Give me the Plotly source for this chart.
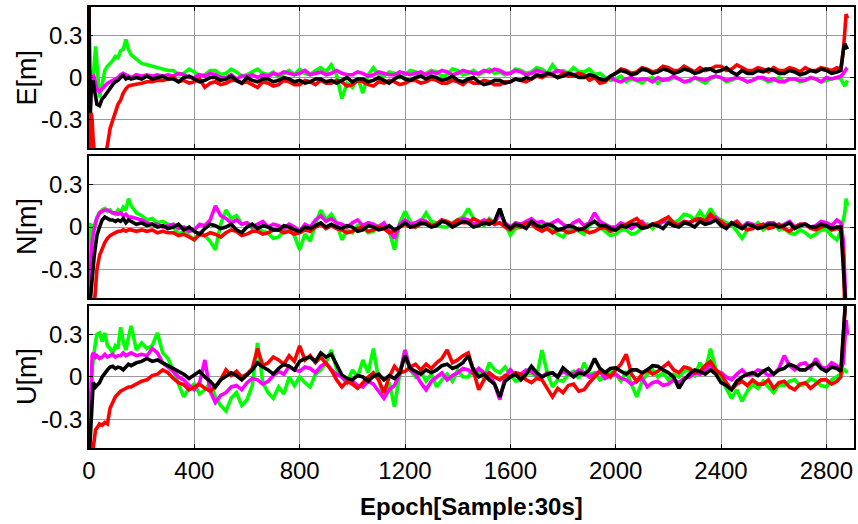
import plotly.graph_objects as go

# ---------------- data ----------------
epoch_start = [0, 4, 8, 12, 16, 20, 25, 30,
               40, 50, 60, 70, 80, 90, 100, 110,
               120, 130, 140, 150, 160, 180, 200, 220,
               240, 260, 280, 300]
epoch_mid = list(range(320, 2841, 20))
epoch_end = [2855, 2865, 2870, 2875, 2880]
epochs = epoch_start + epoch_mid + epoch_end

# ---- E component ----
E_green = ([0.5, -0.5, 0.05, -0.1, 0.0, 0.1, 0.22, 0.1,
            -0.14, -0.05, 0.05, 0.08, 0.1, 0.12, 0.15, 0.14,
            0.19, 0.2, 0.27, 0.2, 0.16, 0.13, 0.1, 0.09,
            0.08, 0.07, 0.06, 0.05]
           + [0.05, 0.02, 0.03, 0.06, 0.04, 0.01, 0.02, 0.05, 0.05, 0.02, 0.03, 0.06, 0.04, 0.01, 0.02, 0.04,
              0.06, 0.03, 0.02, 0.04, 0.0, 0.03, 0.05, 0.02, 0.06, 0.03, 0.02, 0.05, 0.07, 0.04, 0.09, 0.02,
              -0.15, -0.04, -0.07, 0.0, -0.11, 0.02, 0.07, 0.02, 0.01, 0.04, 0.03, 0.0, 0.02, 0.05, 0.04, 0.01,
              0.03, 0.05, 0.04, 0.01, 0.02, 0.06, 0.05, 0.02, 0.03, 0.05, 0.02, 0.04, 0.06, 0.03, 0.04, 0.02,
              0.03, 0.06, 0.05, 0.03, 0.04, 0.07, 0.06, 0.03, 0.09, 0.04, 0.05, 0.03, 0.07, 0.04, 0.04, 0.06,
              0.02, 0.03, 0.0, -0.02, -0.01, 0.01, -0.03, -0.01, -0.02, -0.04, -0.01, 0.0, -0.04, -0.01, -0.02, 0.0,
              -0.01, -0.03, -0.03, 0.0, -0.02, -0.04, -0.01, 0.01, 0.0, -0.03, -0.02, 0.0, -0.01, -0.03, -0.02, 0.0,
              -0.01, -0.03, -0.02, 0.0, -0.03, -0.01, -0.01, -0.03, -0.02, 0.0, -0.01, -0.03, -0.02, -0.01, 0.0]
           + [-0.01, -0.05, -0.06, -0.04, -0.02])
E_magenta = ([0.2, -0.3, -0.1, 0.0, 0.02, 0.0, -0.05, -0.08,
              -0.1, -0.08, -0.06, -0.04, -0.03, -0.02, -0.01, 0.0,
              0.02, 0.03, 0.02, 0.01, 0.0, 0.02, 0.01, 0.02,
              0.01, 0.02, 0.01, 0.02]
             + [0.01, 0.03, 0.02, 0.0, 0.0, 0.02, 0.01, 0.03, 0.02, 0.0, 0.0, 0.02, -0.01, 0.01, 0.01, 0.02,
                0.0, 0.02, 0.01, 0.03, 0.02, 0.04, 0.03, 0.02, 0.03, 0.05, 0.02, 0.03, 0.04, 0.02, 0.03, 0.05,
                0.03, 0.02, 0.02, 0.04, 0.03, 0.01, 0.02, 0.04, 0.03, 0.02, 0.02, 0.04, 0.03, 0.02, 0.03, 0.04,
                0.02, 0.04, 0.03, 0.05, 0.04, 0.02, 0.03, 0.05, 0.04, 0.03, 0.03, 0.05, 0.04, 0.06, 0.05, 0.03,
                0.03, 0.05, 0.04, 0.02, 0.03, 0.05, 0.04, 0.03, 0.03, 0.05, 0.04, 0.03, 0.02, 0.03, 0.01, 0.0,
                0.0, -0.02, -0.01, 0.0, -0.02, -0.03, -0.01, 0.0, -0.02, -0.01, -0.01, -0.03, 0.0, -0.02, -0.01, 0.01,
                -0.01, -0.03, -0.02, 0.0, -0.01, -0.02, 0.0, 0.01, 0.0, -0.02, -0.01, 0.0, -0.01, -0.03, -0.02, 0.0,
                0.0, -0.02, -0.01, -0.03, -0.03, -0.01, -0.01, -0.02, -0.02, 0.0, -0.01, -0.03, 0.0, -0.01, 0.0]
             + [0.01, 0.03, 0.05, 0.06, 0.05])
E_red = ([0.5, -0.5, -0.25, -0.3, -0.45, -0.6, -0.6, -0.6,
          -0.6, -0.6, -0.55, -0.48, -0.36, -0.3, -0.23, -0.19,
          -0.16, -0.11, -0.08, -0.06, -0.055, -0.05, -0.04, -0.03,
          -0.03, -0.02, -0.02, -0.01]
         + [0.0, -0.03, -0.02, -0.04, -0.03, -0.01, -0.07, -0.04, -0.03, -0.05, -0.04, -0.02, -0.02, -0.04, -0.03, -0.05,
            -0.07, -0.03, -0.04, -0.06, -0.05, -0.02, -0.03, -0.05, -0.05, -0.02, -0.03, -0.05, -0.02, -0.04, -0.04, -0.02,
            -0.03, -0.06, -0.05, -0.02, -0.03, -0.05, -0.06, -0.03, -0.04, -0.02, -0.03, -0.05, -0.04, -0.02, -0.02, -0.04,
            -0.03, -0.01, -0.02, -0.04, -0.04, -0.02, -0.03, -0.05, -0.02, -0.04, -0.04, -0.02, -0.03, -0.05, -0.05, -0.03,
            -0.03, -0.01, -0.02, -0.03, -0.01, 0.01, 0.0, 0.02, 0.02, 0.0, 0.03, 0.01, 0.01, 0.03, 0.02, -0.02,
            0.0, -0.04, -0.03, 0.01, 0.03, 0.06, 0.05, 0.03, 0.04, 0.07, 0.06, 0.04, 0.05, 0.08, 0.07, 0.05,
            0.05, 0.08, 0.06, 0.04, 0.07, 0.05, 0.06, 0.08, 0.08, 0.05, 0.06, 0.09, 0.07, 0.05, 0.05, 0.07,
            0.06, 0.04, 0.07, 0.05, 0.05, 0.07, 0.06, 0.04, 0.07, 0.05, 0.05, 0.07, 0.06, 0.05, 0.07]
         + [0.06, 0.2, 0.33, 0.45, 0.42])
E_black = ([0.5, -0.25, -0.1, -0.05, -0.02, -0.08, -0.15, -0.19,
            -0.2, -0.15, -0.13, -0.1, -0.07, -0.05, -0.03, -0.02,
            0.0, 0.015, -0.01, 0.0, -0.01, 0.0, -0.01, 0.01,
            -0.01, 0.0, 0.01, -0.01]
           + [-0.01, -0.03, 0.0, 0.01, -0.01, -0.03, -0.02, 0.0, 0.0, -0.02, -0.01, 0.01, -0.02, -0.04, 0.0, -0.02,
              -0.03, -0.01, -0.01, -0.03, -0.02, 0.0, -0.01, -0.03, -0.02, -0.04, -0.03, -0.01, -0.01, -0.03, -0.02, -0.04,
              -0.02, 0.0, -0.03, -0.01, -0.01, -0.03, -0.02, 0.0, -0.02, -0.04, -0.01, 0.01, -0.01, -0.02, 0.0, 0.01,
              -0.01, 0.01, 0.0, -0.02, -0.01, 0.01, -0.02, -0.03, -0.01, 0.0, -0.03, -0.05, -0.04, -0.02, -0.02, -0.04,
              -0.03, -0.01, -0.02, 0.0, -0.01, 0.02, 0.01, 0.03, 0.02, 0.0, 0.01, 0.03, 0.02, 0.0, 0.0, 0.02,
              0.01, -0.01, -0.02, 0.01, 0.03, 0.05, 0.04, 0.02, 0.03, 0.06, 0.05, 0.03, 0.04, 0.06, 0.05, 0.03,
              0.04, 0.06, 0.05, 0.03, 0.04, 0.06, 0.06, 0.04, 0.05, 0.07, 0.04, 0.02, 0.05, 0.03, 0.03, 0.05,
              0.04, 0.06, 0.05, 0.03, 0.03, 0.05, 0.04, 0.02, 0.03, 0.05, 0.04, 0.06, 0.05, 0.03, 0.04]
           + [0.05, 0.2, 0.24, 0.22, 0.2])

# ---- N component ----
N_green = ([-0.3, 0.03, -0.05, 0.0, 0.02, 0.0, 0.05, 0.07,
            0.1, 0.12, 0.13, 0.11, 0.12, 0.1, 0.09, 0.12,
            0.1, 0.14, 0.12, 0.2, 0.15, 0.1, 0.08, 0.05,
            0.06, 0.03, 0.04, 0.02]
           + [0.0, -0.05, -0.03, -0.06, -0.09, -0.04, -0.06, -0.1, -0.16, 0.02, 0.12, 0.06, 0.08, 0.02, 0.03, -0.01,
              0.0, -0.03, -0.04, -0.08, -0.07, -0.03, -0.02, -0.06, -0.16, -0.05, -0.1, 0.02, 0.12, 0.05, 0.09, 0.03,
              -0.09, -0.02, -0.04, 0.01, 0.0, -0.04, -0.03, 0.01, 0.02, -0.03, -0.16, 0.03, 0.11, 0.04, 0.0, 0.04,
              0.1, 0.04, 0.03, 0.0, 0.0, 0.03, 0.05, 0.07, 0.13, 0.06, 0.04, 0.01, 0.06, 0.03, 0.13, 0.02,
              -0.055, -0.01, 0.0, 0.03, 0.05, 0.01, 0.03, -0.01, -0.02, -0.05, -0.07, -0.02, 0.0, -0.03, -0.05, 0.01,
              0.04, 0.0, -0.03, -0.06, -0.05, -0.02, -0.02, -0.05, -0.04, 0.0, 0.02, -0.01, 0.03, 0.05, 0.06, 0.03,
              0.05, 0.09, 0.08, 0.05, 0.11, 0.06, 0.13, 0.07, 0.05, 0.03, 0.02, -0.03, -0.08, -0.02, 0.0, 0.03,
              -0.02, 0.01, 0.03, -0.02, -0.01, -0.04, -0.05, -0.02, -0.04, -0.07, -0.05, -0.02, -0.02, -0.06, -0.09]
           + [-0.03, 0.05, 0.1, 0.2, 0.15])
N_magenta = ([-0.5, -0.35, -0.2, -0.1, -0.05, 0.0, 0.03, 0.06,
              0.1, 0.11, 0.12, 0.12, 0.11, 0.1, 0.1, 0.09,
              0.1, 0.08, 0.09, 0.07, 0.07, 0.06, 0.05, 0.03,
              0.02, 0.02, 0.0, 0.01]
             + [0.02, -0.01, 0.0, -0.03, -0.02, 0.02, 0.01, 0.05, 0.15, 0.08, 0.06, 0.03, 0.05, 0.02, 0.03, 0.0,
                0.02, 0.04, 0.0, 0.02, 0.01, -0.01, 0.02, 0.0, -0.03, 0.02, 0.0, 0.05, 0.08, 0.04, 0.06, 0.03,
                0.02, 0.0, 0.03, 0.05, 0.01, 0.03, 0.02, 0.0, 0.03, -0.02, -0.08, 0.02, 0.05, 0.02, 0.03, 0.05,
                0.04, 0.01, 0.02, 0.05, 0.03, 0.01, 0.04, 0.06, 0.05, 0.02, 0.03, 0.05, 0.04, 0.02, 0.1, 0.03,
                0.0, 0.03, 0.02, 0.04, 0.06, 0.03, 0.04, 0.01, 0.03, 0.05, 0.02, 0.0, 0.03, 0.05, 0.01, 0.03,
                0.1, 0.04, 0.02, 0.0, 0.0, 0.03, 0.01, -0.01, 0.02, 0.04, 0.0, 0.02, 0.01, 0.04, 0.03, 0.01,
                0.02, 0.04, 0.03, 0.05, 0.04, 0.02, 0.05, 0.07, 0.03, 0.01, 0.02, 0.04, 0.0, 0.03, 0.02, 0.0,
                0.01, 0.03, 0.03, 0.0, 0.02, 0.04, 0.0, 0.02, 0.02, 0.0, 0.01, 0.04, 0.03, 0.01, 0.05]
             + [0.03, -0.1, -0.6, -0.6, -0.6])
N_red = ([-0.6, -0.6, -0.6, -0.6, -0.6, -0.55, -0.45, -0.3,
          -0.2, -0.15, -0.11, -0.08, -0.06, -0.05, -0.04, -0.03,
          -0.03, -0.02, -0.03, -0.02, -0.02, -0.03, -0.02, -0.03,
          -0.02, -0.04, -0.03, -0.04]
         + [-0.04, -0.06, -0.05, -0.07, -0.09, -0.05, -0.06, -0.04, -0.05, -0.07, -0.04, -0.02, -0.03, -0.06, -0.05, -0.03,
            -0.03, -0.05, -0.04, -0.02, -0.02, -0.04, -0.03, -0.05, -0.04, -0.02, -0.03, 0.0, 0.02, -0.01, 0.01, -0.01,
            -0.02, -0.04, -0.03, -0.01, 0.0, -0.03, -0.02, 0.0, -0.01, -0.04, -0.03, 0.0, 0.02, 0.0, 0.0, 0.02,
            0.03, 0.01, 0.02, 0.05, 0.04, 0.02, 0.05, 0.03, 0.03, 0.06, 0.04, 0.02, 0.05, 0.02, 0.03, 0.0,
            -0.02, 0.01, 0.0, 0.03, 0.02, -0.01, -0.03, -0.01, -0.04, -0.02, -0.02, -0.04, -0.03, -0.01, -0.02, -0.04,
            -0.03, -0.01, 0.0, -0.03, -0.02, 0.0, 0.02, 0.04, 0.06, 0.02, 0.0, 0.02, 0.03, 0.05, 0.07, 0.03,
            0.01, 0.04, 0.03, 0.05, 0.06, 0.04, 0.09, 0.05, 0.04, 0.01, 0.02, 0.04, 0.0, -0.02, -0.01, 0.01,
            0.02, -0.01, 0.0, 0.02, -0.01, -0.03, 0.0, 0.02, 0.02, -0.01, -0.02, 0.0, 0.01, -0.02, -0.01]
         + [-0.02, -0.2, -0.6, -0.6, -0.6])
N_black = ([-0.6, -0.55, -0.45, -0.35, -0.25, -0.2, -0.13, -0.06,
            0.0, 0.05, 0.07, 0.06, 0.05, 0.05, 0.04, 0.05,
            0.04, 0.06, 0.03, 0.05, 0.04, 0.02, 0.03, 0.01,
            0.02, 0.0, 0.01, -0.01]
           + [0.0, 0.02, -0.02, 0.0, -0.03, -0.05, -0.01, 0.02, 0.01, -0.01, 0.0, 0.02, -0.02, -0.04, 0.0, 0.02,
              -0.01, 0.01, 0.0, -0.02, -0.02, 0.01, 0.0, -0.02, -0.03, 0.0, -0.01, 0.01, 0.03, 0.0, 0.02, 0.0,
              -0.01, 0.01, 0.0, -0.03, -0.02, 0.01, 0.0, -0.02, -0.01, 0.01, -0.02, 0.0, 0.03, 0.0, 0.01, 0.03,
              0.02, 0.0, 0.01, 0.04, 0.03, 0.0, 0.02, 0.04, 0.03, 0.0, 0.01, 0.03, 0.02, 0.04, 0.13, 0.02,
              -0.01, 0.02, 0.01, -0.01, 0.04, 0.01, 0.0, 0.02, 0.01, -0.02, -0.01, 0.01, 0.0, -0.02, -0.01, 0.02,
              0.04, 0.01, 0.01, -0.01, -0.02, 0.01, 0.0, 0.02, 0.02, -0.01, 0.0, 0.02, 0.01, -0.01, 0.03, 0.01,
              0.0, 0.03, 0.02, 0.0, 0.04, 0.02, 0.03, 0.05, 0.01, -0.01, 0.03, 0.01, -0.01, 0.02, 0.01, -0.01,
              0.0, 0.02, 0.02, 0.0, 0.01, 0.03, -0.01, 0.01, 0.02, 0.0, 0.0, 0.02, 0.01, -0.01, 0.0]
           + [0.0, -0.3, -0.6, -0.6, -0.6])

# ---- U component ----
U_green = ([-0.5, -0.3, -0.1, 0.05, 0.12, 0.19, 0.25, 0.3,
            0.31, 0.25, 0.31, 0.22, 0.2, 0.17, 0.22, 0.2,
            0.35, 0.25, 0.19, 0.28, 0.36, 0.19, 0.24, 0.2,
            0.22, 0.31, 0.17, 0.13]
           + [0.05, -0.05, -0.14, -0.08, -0.05, -0.12, -0.09, -0.04, -0.14, -0.2, -0.24, -0.15, -0.11, -0.2, -0.16, -0.06,
              0.24, -0.04, -0.11, -0.15, -0.07, -0.12, 0.0, -0.06, 0.0, -0.04, -0.07, 0.02, 0.05, 0.1, 0.19, 0.06,
              0.0, -0.04, 0.05, 0.0, 0.12, 0.03, 0.2, -0.02, -0.14, -0.04, -0.21, 0.02, 0.19, 0.05, 0.0, 0.04,
              -0.03, 0.02, -0.07, -0.02, 0.02, -0.03, 0.05, 0.0, 0.0, 0.06, 0.04, -0.01, 0.1, 0.05, 0.03, 0.07,
              0.02, -0.03, -0.02, 0.02, 0.03, 0.0, 0.19, 0.03, -0.07, -0.02, -0.03, 0.02, 0.04, -0.01, 0.1, 0.02,
              0.03, -0.02, 0.0, 0.04, 0.02, -0.03, 0.04, -0.05, -0.14, -0.03, 0.02, 0.05, 0.0, 0.03, -0.02, 0.02,
              0.0, 0.04, 0.05, 0.01, 0.1, 0.04, 0.2, 0.06, 0.0, -0.08, -0.15, -0.09, -0.17, -0.1, -0.05, -0.08,
              -0.03, -0.07, -0.11, -0.05, -0.06, -0.03, -0.02, -0.06, -0.05, -0.01, -0.03, -0.06, -0.07, -0.02, 0.0]
           + [0.02, 0.04, 0.05, 0.04, 0.03])
U_magenta = ([-0.5, -0.2, 0.05, 0.15, 0.17, 0.16, 0.14, 0.15,
              0.13, 0.14, 0.16, 0.14, 0.15, 0.16, 0.14, 0.15,
              0.15, 0.17, 0.15, 0.16, 0.17, 0.15, 0.16, 0.15,
              0.2, 0.17, 0.1, 0.07]
             + [0.04, 0.0, -0.02, -0.06, -0.09, -0.04, 0.12, -0.1, -0.18, -0.13, -0.11, -0.07, -0.06, -0.09, -0.04, -0.01,
                -0.02, -0.05, -0.03, 0.01, 0.04, 0.02, 0.075, 0.05, 0.04, 0.07, 0.06, 0.03, 0.075, 0.1, 0.05, 0.02,
                0.0, -0.04, -0.03, -0.06, -0.07, -0.03, -0.05, -0.1, -0.15, -0.09, -0.06, 0.02, 0.19, 0.05, 0.02, -0.04,
                -0.09, -0.03, 0.0, 0.03, -0.02, 0.01, 0.03, 0.06, 0.05, 0.02, 0.06, 0.03, 0.02, -0.05, -0.16, 0.0,
                0.05, 0.01, 0.02, 0.05, 0.04, 0.01, 0.0, 0.03, 0.03, 0.0, 0.04, 0.02, 0.02, 0.05, 0.03, 0.0,
                0.02, 0.04, -0.01, 0.01, 0.02, -0.01, -0.02, -0.05, -0.03, -0.01, -0.07, -0.04, -0.03, -0.06, -0.05, -0.02,
                -0.04, -0.01, 0.0, 0.03, 0.02, 0.05, 0.09, 0.04, 0.03, 0.0, -0.02, 0.02, 0.05, 0.01, 0.02, 0.05,
                0.04, 0.01, 0.02, 0.06, 0.15, 0.08, 0.05, 0.09, 0.1, 0.06, 0.13, 0.07, 0.06, 0.1, 0.08]
             + [0.05, 0.1, 0.25, 0.4, 0.3])
U_red = ([-0.6, -0.6, -0.6, -0.6, -0.5, -0.42, -0.37, -0.36,
          -0.33, -0.34, -0.32, -0.33, -0.22, -0.18, -0.14, -0.12,
          -0.1, -0.09, -0.08, -0.07, -0.07, -0.05, -0.03, -0.02,
          0.01, 0.02, 0.05, 0.03]
         + [-0.01, -0.04, -0.055, -0.09, -0.07, -0.05, -0.08, -0.1, -0.07, -0.02, 0.05, 0.01, 0.04, 0.0, 0.02, 0.06,
            0.2, 0.08, 0.1, 0.14, 0.12, 0.09, 0.15, 0.11, 0.22, 0.12, 0.15, 0.1, 0.14, 0.09, 0.05, -0.02,
            -0.07, -0.03, -0.05, -0.08, -0.04, 0.0, 0.03, -0.02, -0.11, 0.0, 0.075, 0.03, 0.04, 0.07, 0.09, 0.05,
            0.09, 0.06, 0.1, 0.13, 0.19, 0.1, 0.12, 0.15, 0.17, 0.05, -0.09, -0.02, 0.03, 0.0, -0.02, 0.01,
            0.0, 0.03, 0.02, -0.02, -0.04, -0.01, -0.02, -0.08, -0.14, -0.08, -0.11, -0.06, -0.05, -0.1, -0.09, -0.04,
            0.0, 0.04, 0.03, 0.0, 0.05, 0.09, 0.16, 0.02, -0.03, 0.02, 0.05, 0.02, 0.04, 0.07, 0.1, 0.05,
            0.03, 0.07, 0.06, 0.03, 0.04, 0.08, 0.11, 0.05, 0.02, -0.04, -0.09, -0.05, -0.03, -0.06, -0.02, -0.05,
            -0.05, -0.02, -0.08, -0.04, -0.03, -0.07, -0.09, -0.05, -0.04, -0.08, -0.05, -0.02, -0.02, -0.05, -0.03]
         + [0.0, 0.3, 0.6, 0.6, 0.6])
U_black = ([-0.6, -0.45, -0.3, -0.12, -0.04, -0.05, -0.07, -0.06,
            -0.04, 0.0, 0.03, 0.05, 0.07, 0.075, 0.06, 0.07,
            0.065, 0.05, 0.07, 0.09, 0.08, 0.1, 0.11, 0.13,
            0.11, 0.12, 0.1, 0.08]
           + [0.065, 0.04, 0.02, -0.01, 0.015, 0.04, 0.0, -0.03, -0.07, -0.02, 0.005, 0.03, 0.01, -0.02, 0.015, 0.05,
              0.1, 0.07, 0.05, 0.02, 0.06, 0.09, 0.075, 0.05, 0.11, 0.13, 0.14, 0.11, 0.17, 0.14, 0.16, 0.08,
              0.015, -0.01, -0.02, 0.01, 0.0, -0.03, 0.005, 0.02, -0.02, 0.01, -0.01, 0.03, 0.15, 0.06, 0.04, 0.02,
              0.05, 0.03, 0.05, 0.08, 0.09, 0.06, 0.075, 0.1, 0.15, 0.05, 0.0, 0.02, -0.02, -0.05, -0.14, -0.03,
              0.0, 0.02, -0.02, 0.02, 0.075, 0.03, 0.0, 0.02, 0.03, 0.0, 0.065, 0.03, 0.0, 0.03, 0.02, 0.05,
              0.13, 0.06, 0.03, 0.06, 0.065, 0.04, 0.02, 0.05, 0.05, 0.03, 0.05, 0.08, 0.075, 0.05, 0.03, 0.0,
              -0.08, -0.02, 0.02, 0.05, 0.04, 0.02, 0.05, 0.02, -0.04, -0.06, -0.09, -0.03, 0.0, 0.02, 0.03, 0.01,
              0.04, 0.06, 0.02, 0.05, 0.06, 0.09, 0.075, 0.05, 0.05, 0.08, 0.1, 0.06, 0.04, 0.07, 0.06]
           + [0.04, 0.3, 0.6, 0.6, 0.6])

panel_titles = ["E[m]", "N[m]", "U[m]"]
series_names = ["green", "magenta", "red", "black"]
series_colors = ["#00FF00", "#FF00FF", "#FF0000", "#000000"]
panels = [
    [E_green, E_magenta, E_red, E_black],
    [N_green, N_magenta, N_red, N_black],
    [U_green, U_magenta, U_red, U_black],
]
for p in panels:
    for s in p:
        assert len(s) == len(epochs), (len(s), len(epochs))

x_ticks = [0, 400, 800, 1200, 1600, 2000, 2400, 2800]
y_ticks = [-0.3, 0, 0.3]
y_ticktext = ["-0.3", "0", "0.3"]
x_title = "Epoch[Sample:30s]"

# ---------------- figure ----------------
fig = go.Figure()
domains = [[0.680, 1.0], [0.340, 0.662], [0.0, 0.322]]
FONT = "Liberation Sans, Arial, sans-serif"
annotations = []

for i, series in enumerate(panels):
    ax = "" if i == 0 else str(i + 1)
    for vals, name, col in zip(series, series_names, series_colors):
        fig.add_trace(go.Scatter(
            x=epochs, y=vals, mode="lines", name=name,
            line=dict(color=col, width=3.6),
            xaxis="x" + ax, yaxis="y" + ax, showlegend=False,
            hoverinfo="skip"))

    common_x = dict(
        range=[0, 2905], tickvals=x_ticks, ticks="inside", ticklen=4,
        tickcolor="black", showline=True, linecolor="black", linewidth=1.5,
        mirror="ticks", showgrid=True, gridcolor="#999999", gridwidth=1.2,
        zeroline=False, automargin=False,
        tickfont=dict(family=FONT, size=24, color="black"),
        showticklabels=(i == 2), anchor="y" + ax,
    )
    if i != 2:
        common_x["matches"] = "x3"
    common_y = dict(
        domain=domains[i], range=[-0.5, 0.5], tickvals=y_ticks,
        ticktext=y_ticktext, ticks="inside", ticklen=4, tickcolor="black",
        showline=True, linecolor="black", linewidth=1.5, mirror="ticks",
        showgrid=True, gridcolor="#999999", gridwidth=1,
        zeroline=False, anchor="x" + ax, automargin=False,
        tickfont=dict(family=FONT, size=24, color="black"),
    )
    fig.update_layout(**{"xaxis" + ax: common_x, "yaxis" + ax: common_y})
    annotations.append(dict(
        text=panel_titles[i], textangle=-90, showarrow=False,
        xref="paper", yref="paper", x=0, xshift=-62,
        y=(domains[i][0] + domains[i][1]) / 2,
        xanchor="center", yanchor="middle",
        font=dict(family=FONT, size=27, color="black")))

annotations.append(dict(
    text="<b>" + x_title + "</b>", showarrow=False,
    xref="paper", yref="paper", x=0.5, y=0, yshift=-58,
    xanchor="center", yanchor="middle",
    font=dict(family=FONT, size=24, color="black")))

fig.update_layout(
    width=858, height=524,
    margin=dict(l=89, r=4, t=7, b=76, autoexpand=False),
    paper_bgcolor="white", plot_bgcolor="white",
    font=dict(family=FONT, color="black"),
    hovermode=False, annotations=annotations,
)

fig.write_html("out.html", config={"displayModeBar": False},
               post_script="document.body.style.margin='0';"
                           "document.body.style.overflow='hidden';")
